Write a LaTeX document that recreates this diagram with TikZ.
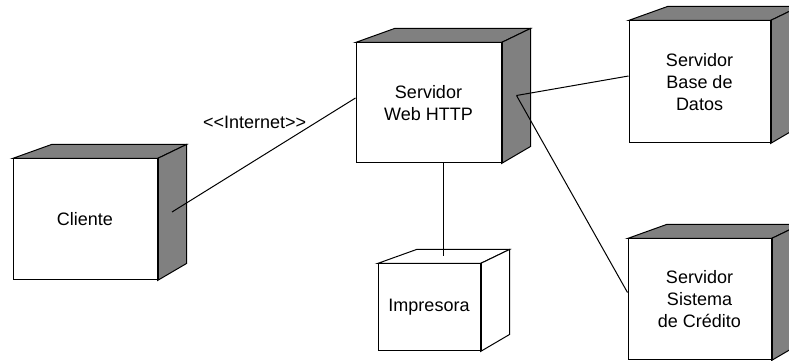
\documentclass[tikz,border=0pt]{standalone}
\usepackage{fontspec}
\setmainfont{Liberation Sans}
\usetikzlibrary{calc}

\begin{document}
\begin{tikzpicture}[x=1pt,y=1pt,line width=1pt,
  every node/.style={font=\fontsize{18}{22}\selectfont,align=center,inner sep=0pt},
  nodo/.style={draw=black,fill=white,minimum width=144pt,minimum height=121pt}]
  \useasboundingbox (0,0) rectangle (789,361);
  \clip (0,0) rectangle (789,361);
  \node (cliente) [nodo] at (85,141.5) {Cliente};
  \node (web) [nodo,minimum width=145pt,minimum height=120pt] at (428.5,258) {Servidor\\Web HTTP};
  \node (impresora) [nodo,minimum width=102pt,minimum height=87pt] at (429,53.5) {Impresora};
  \node (base) [nodo,minimum width=141pt,minimum height=122pt] at (699.5,279) {Servidor\\Base de\\Datos};
  \node (credito) [nodo,minimum width=143pt] at (699.5,61.5) {Servidor\\Sistema\\de Crédito};
  % caras superior y lateral
  \foreach \n/\c in {cliente/gray,web/gray,base/gray,credito/gray,impresora/white} {
    \filldraw[fill=\c] (\n.north west) -- ++(39,14) -- ($(\n.north east)+(29,14)$) -- (\n.north east) -- cycle;
    \filldraw[fill=\c] (\n.north east) -- ++(29,14) -- ($(\n.south east)+(29,17)$) -- (\n.south east) -- cycle;
    \draw[line width=2pt] (\n.north east) -- (\n.south east);
  }
  \coordinate (cl) at ($(cliente.east)+(14.5,7.5)$);
  \coordinate (wl) at ($(web.east)+(15,7.5)$);
  \draw (cl) -- node[pos=.45,above=32pt] {<{}<Internet>{}>} ($(web.west)+(0,5)$);
  \draw (wl) -- ($(base.west)+(0,6)$);
  \draw (wl) -- ($(credito.west)+(0,7)$);
  \draw ($(web.south)+(14.5,0)$) -- ($(impresora.north)+(14,7)$);
\end{tikzpicture}
\end{document}
